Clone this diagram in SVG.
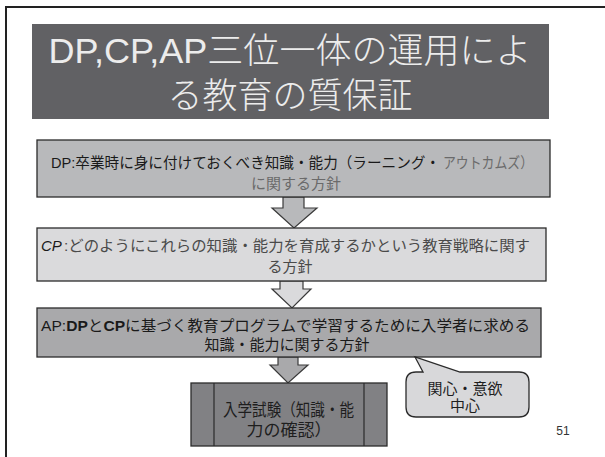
<svg xmlns="http://www.w3.org/2000/svg" width="605" height="457" viewBox="0 0 605 457">
<style>
text{font-family:"Liberation Sans","Noto Sans CJK JP",sans-serif;}
.box{stroke:#2b2b2b;stroke-width:1.3;}
.arrow{stroke:#3a3a3a;stroke-width:1.2;stroke-linejoin:miter;}
.ttl{fill:#ececec;font-size:35px;text-anchor:middle;font-weight:300;}
.bt{font-size:15px;}
.dk{fill:#1a1a1a;}
.gy{fill:#6a6a6a;}
.mg{fill:#4a4a4a;}
</style>
<rect width="605" height="457" fill="#ffffff"/>
<path d="M6,457 V7 H605" fill="none" stroke="#222" stroke-width="2"/>

<g id="title">
<rect x="32" y="24" width="517" height="95" fill="#616164"/>
<text class="ttl" x="290" y="63" textLength="483" lengthAdjust="spacingAndGlyphs">DP,CP,AP三位一体の運用によ</text>
<text class="ttl" x="290" y="108">る教育の質保証</text>
</g>

<g id="connectors">
<polygon class="arrow" fill="#b8b9bb" points="283,197 304,197 304,208 317,208 294,228 272,208 283,208"/>
<polygon class="arrow" fill="#dadadc" points="280,281 303,281 303,289 311,289 292,308 272,289 280,289"/>
<polygon class="arrow" fill="#a9a9ab" points="278,357 298,357 298,365 308,365 288,383 270,365 278,365"/>
</g>

<g id="dp">
<rect class="box" x="37" y="140" width="513" height="57" fill="#b8b9bb"/>
<text class="bt dk" x="51" y="168" textLength="389" lengthAdjust="spacingAndGlyphs">DP:卒業時に身に付けておくべき知識・能力（ラーニング・</text>
<text class="bt gy" x="443" y="168" textLength="90" lengthAdjust="spacingAndGlyphs">アウトカムズ）</text>
<text class="bt gy" x="296" y="189" text-anchor="middle">に関する方針</text>
</g>

<g id="cp">
<rect class="box" x="37" y="228" width="509" height="53" fill="#dadadc"/>
<text class="bt dk" x="41" y="251" font-style="italic">CP</text>
<text class="bt mg" x="64" y="251" textLength="466" lengthAdjust="spacingAndGlyphs">:どのようにこれらの知識・能力を育成するかという教育戦略に関す</text>
<text class="bt mg" x="290" y="272" text-anchor="middle">る方針</text>
</g>

<g id="ap">
<rect class="box" x="37" y="308" width="504" height="49" fill="#a9a9ab"/>
<text class="bt dk" x="41" y="331" textLength="489" lengthAdjust="spacingAndGlyphs">AP:<tspan font-weight="bold">DP</tspan>と<tspan font-weight="bold">CP</tspan>に基づく教育プログラムで学習するために入学者に求める</text>
<text class="bt dk" x="287" y="350" text-anchor="middle">知識・能力に関する方針</text>
</g>

<g id="exam">
<rect class="box" x="191" y="383" width="196" height="63" fill="#818184"/>
<line x1="214" y1="383" x2="214" y2="446" stroke="#2b2b2b" stroke-width="1.2"/>
<line x1="364" y1="383" x2="364" y2="446" stroke="#2b2b2b" stroke-width="1.2"/>
<text x="223" y="416" font-size="17" fill="#1e1e1e" textLength="131" lengthAdjust="spacingAndGlyphs">入学試験（知識・能</text>
<text x="289" y="436" font-size="17" fill="#1e1e1e" text-anchor="middle">力の確認）</text>
</g>

<g id="callout">
<path class="box" fill="#d8d8da" d="M423,372 L415,357 L460,372 H519 Q529,372 529,382 V407 Q529,417 519,417 H416 Q406,417 406,407 V382 Q406,372 416,372 Z"/>
<text x="465" y="394" font-size="15" fill="#1e1e1e" text-anchor="middle">関心・意欲</text>
<text x="465" y="411" font-size="15" fill="#1e1e1e" text-anchor="middle">中心</text>
</g>

<g id="page">
<text x="563" y="435" font-size="12" fill="#333" text-anchor="middle">51</text>
</g>
</svg>
